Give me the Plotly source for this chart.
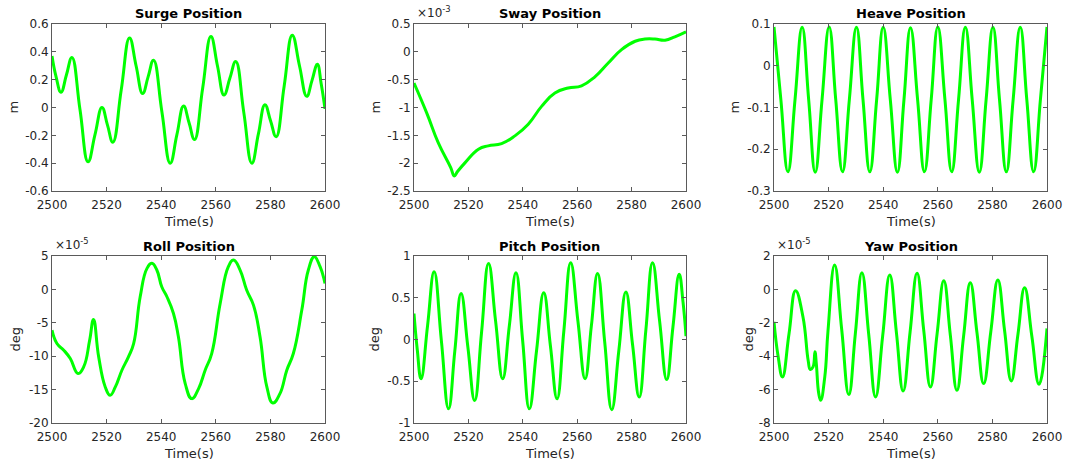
import plotly.graph_objects as go

W, H = 1067, 463

# ---- Surge position (m) ----
surge_t = [2500, 2501.5, 2503.3, 2505.3, 2507.3, 2510.25, 2513.2, 2515.75, 2518.3, 2520.3,
           2522.3, 2525.35, 2528.4, 2530.8, 2533.2, 2535.2, 2537.2, 2540.25, 2543.3, 2545.75,
           2548.2, 2550.2, 2552.2, 2555.2, 2558.2, 2560.6, 2563.0, 2565.15, 2567.3, 2570.25,
           2573.2, 2575.6, 2578.0, 2580.05, 2582.1, 2585.05, 2588.0, 2590.65, 2593.3, 2595.25,
           2597.2, 2598.6, 2600]
surge_m = [0.37, 0.22, 0.11, 0.235, 0.36, -0.015, -0.39, -0.195, 0.0, -0.125,
           -0.25, 0.125, 0.50, 0.30, 0.10, 0.22, 0.34, -0.03, -0.40, -0.195,
           0.01, -0.11, -0.23, 0.14, 0.51, 0.30, 0.09, 0.21, 0.33, -0.035,
           -0.40, -0.19, 0.02, -0.095, -0.21, 0.155, 0.52, 0.30, 0.08, 0.195,
           0.31, 0.17, -0.01]

# ---- Sway position (m) ----
sway_t = [2500, 2504.7, 2508.9, 2513.5, 2514.8, 2516.0, 2518.8, 2523.7, 2527.3, 2532.2,
          2537.1, 2542.0, 2546.9, 2551.8, 2556.7, 2561.6, 2566.5, 2571.4, 2576.3, 2581.3,
          2584.9, 2588.6, 2592.3, 2595.9, 2600]
sway_m = [-0.56e-3, -1.10e-3, -1.63e-3, -2.08e-3, -2.23e-3, -2.15e-3, -1.99e-3, -1.75e-3,
          -1.69e-3, -1.65e-3, -1.51e-3, -1.30e-3, -0.98e-3, -0.74e-3, -0.65e-3, -0.61e-3,
          -0.45e-3, -0.20e-3, 0.04e-3, 0.19e-3, 0.23e-3, 0.23e-3, 0.21e-3, 0.27e-3, 0.36e-3]

# ---- Heave position (m) ----
heave_t = [2500, 2502.5, 2505.1, 2507.7, 2510.3, 2512.7, 2515.1, 2517.6, 2520.2, 2522.6,
           2525.1, 2527.6, 2530.2, 2532.6, 2535.1, 2537.6, 2540.0, 2542.6, 2545.2, 2547.6,
           2550.0, 2552.6, 2555.1, 2557.6, 2560.0, 2562.6, 2565.1, 2567.6, 2570.1, 2572.6,
           2575.2, 2577.7, 2580.2, 2582.6, 2585.1, 2587.6, 2590.2, 2592.6, 2595.1, 2597.6,
           2600]
heave_m = [0.093, -0.080, -0.254, -0.081, 0.092, -0.081, -0.255, -0.081, 0.093, -0.080,
           -0.254, -0.081, 0.092, -0.081, -0.254, -0.081, 0.092, -0.081, -0.255, -0.082,
           0.091, -0.081, -0.254, -0.080, 0.093, -0.080, -0.254, -0.081, 0.092, -0.081,
           -0.255, -0.081, 0.092, -0.081, -0.254, -0.081, 0.092, -0.081, -0.254, -0.080,
           0.093]

# ---- Roll position (deg) ----
roll_t = [2500, 2501.8, 2504.3, 2506.7, 2509.5, 2511.6, 2513.8, 2515.2, 2517.1, 2519.5,
          2521.3, 2523.2, 2525.6, 2528.0, 2529.9, 2532.3, 2534.8, 2536.6, 2538.4, 2540.2,
          2542.1, 2544.5, 2546.3, 2548.8, 2551.2, 2553.7, 2556.1, 2558.5, 2561.6, 2564.6,
          2566.5, 2568.9, 2571.3, 2573.8, 2576.2, 2578.7, 2580.9, 2583.5, 2586.0, 2588.4,
          2591.5, 2593.9, 2596.1, 2598.2, 2600]
roll_deg = [-6.1e-5, -8.1e-5, -9.1e-5, -10.35e-5, -12.6e-5, -11.6e-5, -7.6e-5, -4.5e-5,
            -10.1e-5, -14.6e-5, -15.85e-5, -14.6e-5, -12.1e-5, -10.1e-5, -8.1e-5, -1.1e-5,
            3.15e-5, 3.9e-5, 2.9e-5, 0.4e-5, -1.1e-5, -3.6e-5, -7.1e-5, -14.1e-5, -16.35e-5,
            -14.85e-5, -12.1e-5, -9.6e-5, -2.1e-5, 3.4e-5, 4.4e-5, 2.9e-5, -0.1e-5, -2.35e-5,
            -7.1e-5, -14.6e-5, -17.0e-5, -15.6e-5, -12.1e-5, -9.6e-5, -3.1e-5, 2.9e-5,
            4.9e-5, 3.4e-5, 0.9e-5]

# ---- Pitch position (deg) ----
pitch_t = [2500, 2501.2, 2502.6, 2505.0, 2507.4, 2510.05, 2512.7, 2515.0, 2517.3, 2519.8,
           2522.3, 2524.85, 2527.4, 2530.0, 2532.6, 2535.05, 2537.5, 2539.95, 2542.4, 2545.05,
           2547.7, 2550.15, 2552.6, 2555.1, 2557.6, 2560.25, 2562.9, 2565.2, 2567.5, 2570.1,
           2572.7, 2575.3, 2577.9, 2580.35, 2582.8, 2585.25, 2587.7, 2590.3, 2592.9, 2595.2,
           2597.5, 2598.9, 2600]
pitch_deg = [0.31, -0.12, -0.47, 0.17, 0.81, -0.01, -0.83, -0.14, 0.55, -0.09,
             -0.73, 0.09, 0.91, 0.22, -0.47, 0.165, 0.80, -0.015, -0.83, -0.135,
             0.56, -0.075, -0.71, 0.105, 0.92, 0.225, -0.47, 0.16, 0.79, -0.025,
             -0.84, -0.135, 0.57, -0.06, -0.69, 0.115, 0.92, 0.22, -0.48, 0.15,
             0.78, 0.45, 0.04]

# ---- Yaw position (deg) ----
yaw_t = [2500, 2501.5, 2503.1, 2505.5, 2507.9, 2510.6, 2512.5, 2513.3, 2514.3, 2515.0,
         2515.5, 2516.4, 2517.1, 2518.6, 2519.8, 2522.2, 2524.8, 2527.4, 2529.8, 2532.2,
         2534.7, 2537.2, 2539.8, 2542.4, 2544.85, 2547.3, 2549.85, 2552.4, 2554.85, 2557.3,
         2559.75, 2562.2, 2564.6, 2567.0, 2569.45, 2571.9, 2574.35, 2576.8, 2579.4, 2582.0,
         2584.45, 2586.9, 2589.35, 2591.8, 2594.45, 2597.1, 2600]
yaw_deg = [-1.94e-5, -4.0e-5, -5.24e-5, -2.66e-5, -0.08e-5, -1.64e-5, -4.24e-5, -4.8e-5,
           -4.64e-5, -3.74e-5, -4.44e-5, -6.24e-5, -6.64e-5, -5.24e-5, -2.44e-5, 1.46e-5,
           -2.4e-5, -6.3e-5, -2.65e-5, 1.0e-5, -2.7e-5, -6.44e-5, -2.8e-5, 0.86e-5,
           -2.6e-5, -6.08e-5, -2.55e-5, 0.96e-5, -2.45e-5, -5.84e-5, -2.65e-5, 0.52e-5,
           -2.75e-5, -6.04e-5, -2.8e-5, 0.4e-5, -2.6e-5, -5.64e-5, -2.55e-5, 0.56e-5,
           -2.45e-5, -5.48e-5, -2.7e-5, 0.1e-5, -2.8e-5, -5.68e-5, -2.34e-5]

# ---- axis ticks ----
time_ticks = [2500, 2520, 2540, 2560, 2580, 2600]
surge_ticks = [-0.6, -0.4, -0.2, 0, 0.2, 0.4, 0.6]
surge_labels = ["-0.6", "-0.4", "-0.2", "0", "0.2", "0.4", "0.6"]
sway_ticks = [-2.5, -2, -1.5, -1, -0.5, 0, 0.5]
sway_labels = ["-2.5", "-2", "-1.5", "-1", "-0.5", "0", "0.5"]
heave_ticks = [-0.3, -0.2, -0.1, 0, 0.1]
heave_labels = ["-0.3", "-0.2", "-0.1", "0", "0.1"]
roll_ticks = [-20, -15, -10, -5, 0, 5]
roll_labels = ["-20", "-15", "-10", "-5", "0", "5"]
pitch_ticks = [-1, -0.5, 0, 0.5, 1]
pitch_labels = ["-1", "-0.5", "0", "0.5", "1"]
yaw_ticks = [-8, -6, -4, -2, 0, 2]
yaw_labels = ["-8", "-6", "-4", "-2", "0", "2"]

FONT = "DejaVu Sans"
TXT = "#262626"
AXC = "#5a5a5a"
GREEN = "#00ff00"

# subplot boxes in pixels: (left, right, top, bottom)
boxes = [
    (52, 325, 24, 191), (414, 686, 24, 191), (774, 1047, 24, 191),
    (52, 325, 256, 423), (414, 686, 256, 423), (774, 1047, 256, 423),
]

def px(x):
    return x / W

def py(y):
    return 1 - y / H

panels = [
    ("Surge Position", "m", surge_t, surge_m, 1, surge_ticks, surge_labels, None),
    ("Sway Position", "m", sway_t, sway_m, 1e-3, sway_ticks, sway_labels, "-3"),
    ("Heave Position", "m", heave_t, heave_m, 1, heave_ticks, heave_labels, None),
    ("Roll Position", "deg", roll_t, roll_deg, 1e-5, roll_ticks, roll_labels, "-5"),
    ("Pitch Position", "deg", pitch_t, pitch_deg, 1, pitch_ticks, pitch_labels, None),
    ("Yaw Position", "deg", yaw_t, yaw_deg, 1e-5, yaw_ticks, yaw_labels, "-5"),
]
ylabel_x = [13, 375, 734, 15, 374, 748]

fig = go.Figure()
annotations = []
layout_axes = {}

for i, (title, unit, t, v, scale, yt, yl, expo) in enumerate(panels):
    n = i + 1
    xa = "x" if n == 1 else f"x{n}"
    ya = "y" if n == 1 else f"y{n}"
    left, right, top, bottom = boxes[i]
    fig.add_trace(go.Scatter(
        x=t, y=[val / scale for val in v], mode="lines",
        line=dict(color=GREEN, width=3, shape="spline", smoothing=1.3),
        xaxis=xa, yaxis=ya, showlegend=False, hoverinfo="skip",
    ))
    common = dict(showline=True, linecolor=AXC, linewidth=1, mirror="ticks",
                  ticks="inside", ticklen=4, tickcolor=AXC, tickwidth=1,
                  showgrid=False, zeroline=False, automargin=False,
                  tickfont=dict(family=FONT, size=12, color=TXT))
    layout_axes["xaxis" if n == 1 else f"xaxis{n}"] = dict(
        domain=[px(left), px(right)], range=[2500, 2600], anchor=ya,
        tickvals=time_ticks, ticktext=[str(k) for k in time_ticks],
        ticklabelstandoff=3, **common)
    layout_axes["yaxis" if n == 1 else f"yaxis{n}"] = dict(
        domain=[py(bottom), py(top)], range=[yt[0], yt[-1]], anchor=xa,
        tickvals=yt, ticktext=yl, **common)

    cx = (left + right) / 2
    annotations.append(dict(text=f"<b>{title}</b>", x=px(cx), y=py(top - 10),
                            xref="paper", yref="paper", xanchor="center", yanchor="middle",
                            showarrow=False, font=dict(family=FONT, size=13, color="#000000")))
    annotations.append(dict(text="Time(s)", x=px(cx), y=py(bottom + 30),
                            xref="paper", yref="paper", xanchor="center", yanchor="middle",
                            showarrow=False, font=dict(family=FONT, size=13, color=TXT)))
    annotations.append(dict(text=unit, x=px(ylabel_x[i]), y=py((top + bottom) / 2),
                            xref="paper", yref="paper", xanchor="center", yanchor="middle",
                            textangle=-90, showarrow=False,
                            font=dict(family=FONT, size=13, color=TXT)))
    if expo:
        annotations.append(dict(text=f"×10<sup>{expo}</sup>", x=px(left + 1), y=py(top - 2),
                                xref="paper", yref="paper", xanchor="left", yanchor="bottom",
                                showarrow=False, font=dict(family=FONT, size=12, color=TXT)))

fig.update_layout(
    width=W, height=H, margin=dict(l=0, r=0, t=0, b=0, autoexpand=False),
    paper_bgcolor="white", plot_bgcolor="white",
    annotations=annotations, **layout_axes,
)

fig.write_html("out.html")
